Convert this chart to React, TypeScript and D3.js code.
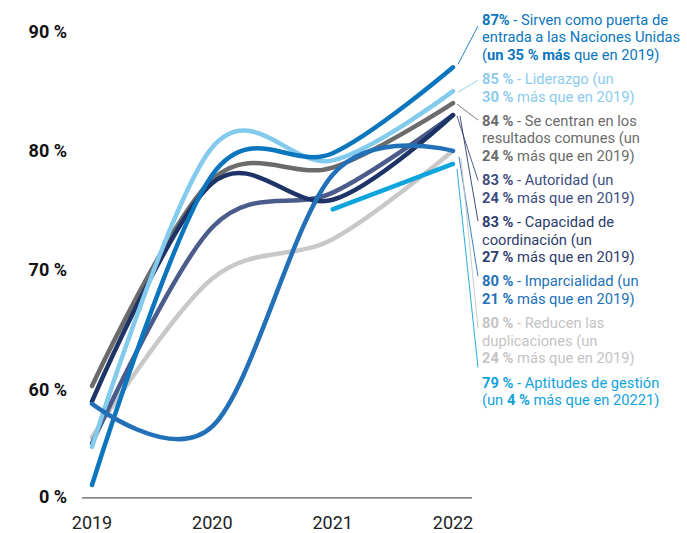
import React from "react";
import * as d3 from "d3";

const years = [2019, 2020, 2021, 2022];

const seriesNames = [
  "Reducen las duplicaciones",
  "Capacidad de coordinación",
  "Se centran en los resultados comunes",
  "Autoridad",
  "Liderazgo",
  "Sirven como puerta de entrada",
  "Imparcialidad",
  "Aptitudes de gestión",
];

const reducenValues = [56, 69.3, 72.6, 80];
const capacidadValues = [55.5, 73.6, 76.5, 83];
const centranValues = [60.3, 77.6, 78.6, 84];
const autoridadValues = [59, 77.3, 75.9, 83];
const liderazgoValues = [55.2, 80.3, 79.2, 85];
const sirvenValues = [52, 78, 79.8, 87];
const imparcialidadValues = [58.8, 56.9, 78, 80];
const aptitudesValues = [null, null, 75.1, 78.9];

const seriesValues = [
  reducenValues,
  capacidadValues,
  centranValues,
  autoridadValues,
  liderazgoValues,
  sirvenValues,
  imparcialidadValues,
  aptitudesValues,
];

const lineColors = [
  "#c8c8c8",
  "#4a5b8c",
  "#6b6b6b",
  "#1e3467",
  "#82cbed",
  "#0b76bd",
  "#2170b8",
  "#0ea5de",
];

const yTickValues = [60, 70, 80, 90];
const yTickLabels = ["60 %", "70 %", "80 %", "90 %"];
const yBreakLabel = "0 %";
const yBreakValue = 51;

type Seg = { t: string; b?: boolean };

// legend entries, top to bottom
const legendLines: Seg[][][] = [
  [
    [{ t: "87%", b: true }, { t: " - Sirven como puerta de" }],
    [{ t: "entrada a las Naciones Unidas" }],
    [{ t: "(" }, { t: "un 35 % más", b: true }, { t: " que en 2019)" }],
  ],
  [
    [{ t: "85 %", b: true }, { t: " - Liderazgo (un" }],
    [{ t: "30 %", b: true }, { t: " más que en 2019)" }],
  ],
  [
    [{ t: "84 %", b: true }, { t: " - Se centran en los" }],
    [{ t: "resultados comunes (un" }],
    [{ t: "24 %", b: true }, { t: " más que en 2019)" }],
  ],
  [
    [{ t: "83 %", b: true }, { t: " - Autoridad (un" }],
    [{ t: "24 %", b: true }, { t: " más que en 2019)" }],
  ],
  [
    [{ t: "83 %", b: true }, { t: " - Capacidad de" }],
    [{ t: "coordinación (un" }],
    [{ t: "27 %", b: true }, { t: " más que en 2019)" }],
  ],
  [
    [{ t: "80 %", b: true }, { t: " - Imparcialidad (un" }],
    [{ t: "21 %", b: true }, { t: " más que en 2019)" }],
  ],
  [
    [{ t: "80 %", b: true }, { t: " - Reducen las" }],
    [{ t: "duplicaciones (un" }],
    [{ t: "24 %", b: true }, { t: " más que en 2019)" }],
  ],
  [
    [{ t: "79 %", b: true }, { t: " - Aptitudes de gestión" }],
    [{ t: "(un " }, { t: "4 %", b: true }, { t: " más que en 20221)" }],
  ],
];

// series index for each legend entry
const legendSeries = [5, 4, 2, 3, 1, 6, 0, 7];
const legendTextColors = [
  "#0b76bd",
  "#8ccbed",
  "#6b6b6b",
  "#3c4d7e",
  "#2c3c6c",
  "#2271b9",
  "#c4c4c4",
  "#12a2dc",
];
// leader start offsets (from series end) and end offsets (from first line centre)
const leaderStart: [number, number][] = [
  [5, -3],
  [5, 1],
  [4, 1],
  [4, 1],
  [7, 1],
  [6, 6],
  [8, 7],
  [4, 5],
];
const leaderEndDy = [6, 1, -1, 0, -1, -5, 5, -15];

export default function App() {
  const W = 687;
  const H = 533;
  const x = d3.scaleLinear().domain([2019, 2022]).range([92, 453]);
  const y = d3.scaleLinear().domain([60, 90]).range([389.5, 31.5]);

  const line = d3
    .line<number | null>()
    .defined((d) => d !== null)
    .x((_, i) => x(years[i]))
    .y((d) => y(d as number))
    .curve(d3.curveCatmullRom.alpha(0));

  const font = "Roboto, 'Noto Sans', sans-serif";
  const lineH = 17.3;
  const gap = 7.3;
  let cursor = 20;
  const blocks = legendLines.map((lines) => {
    const start = cursor;
    cursor += lines.length * lineH + gap;
    return start;
  });

  const lastVal = (vals: (number | null)[]) => vals[vals.length - 1] as number;

  return (
    <svg width={W} height={H} style={{ position: "absolute", left: 0, top: 0, background: "#fff" }}>
      {yTickValues.map((v, i) => (
        <text
          key={v}
          x={67}
          y={y(v)}
          dy="0.35em"
          textAnchor="end"
          fontFamily={font}
          fontWeight={700}
          fontSize={18}
          fill="#111"
        >
          {yTickLabels[i]}
        </text>
      ))}
      <text
        x={67}
        y={y(yBreakValue)}
        dy="0.35em"
        textAnchor="end"
        fontFamily={font}
        fontWeight={700}
        fontSize={18}
        fill="#111"
      >
        {yBreakLabel}
      </text>
      <line x1={82} x2={472} y1={y(yBreakValue) + 1} y2={y(yBreakValue) + 1} stroke="#333" strokeWidth={1} />
      {years.map((yr) => (
        <text
          key={yr}
          x={x(yr)}
          y={528.5}
          textAnchor="middle"
          fontFamily={font}
          fontSize={18}
          fill="#222"
        >
          {yr}
        </text>
      ))}

      {seriesValues.map((vals, i) => (
        <path
          key={seriesNames[i]}
          d={line(vals) || ""}
          fill="none"
          stroke={lineColors[i]}
          strokeWidth={4.5}
          strokeLinecap="round"
        />
      ))}

      {legendLines.map((lines, k) => {
        const s = legendSeries[k];
        const sx = x(2022) + leaderStart[k][0];
        const sy = y(lastVal(seriesValues[s])) + leaderStart[k][1];
        const ex = 478;
        const ey = blocks[k] + leaderEndDy[k];
        return (
          <g key={k}>
            <line x1={sx} y1={sy} x2={ex} y2={ey} stroke={legendTextColors[k]} strokeWidth={0.9} />
            {lines.map((segs, j) => (
              <text
                key={j}
                x={482}
                y={blocks[k] + j * lineH + 5}
                fontFamily={font}
                fontSize={14.7}
                fill={legendTextColors[k]}
              >
                {segs.map((sg, m) => (
                  <tspan key={m} fontWeight={sg.b ? 700 : 400}>
                    {sg.t}
                  </tspan>
                ))}
              </text>
            ))}
          </g>
        );
      })}
    </svg>
  );
}
